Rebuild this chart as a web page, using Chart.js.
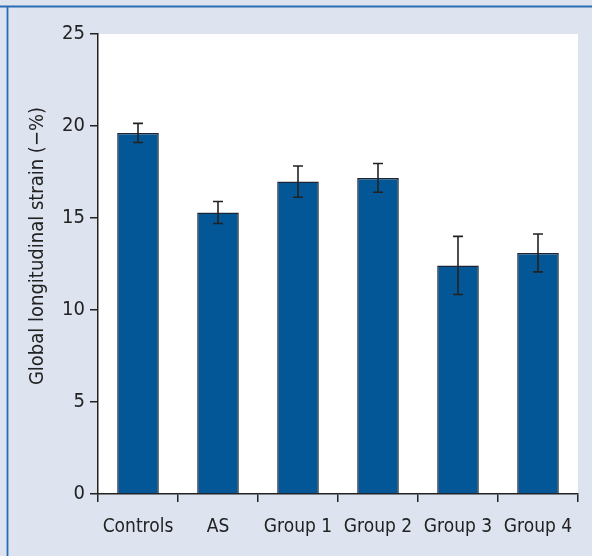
<!DOCTYPE html>
<html>
<head>
<meta charset="utf-8">
<script src="https://cdn.jsdelivr.net/npm/chart.js@4"></script>
<style>
  html, body { margin: 0; padding: 0; background: #dde3ef; }
  #wrap { width: 592px; height: 556px; }
</style>
</head>
<body>
<div id="wrap"><canvas id="c" width="592" height="556"></canvas></div>
<script>
// Global longitudinal strain by group, mean ± SEM
const categories = ['Controls', 'AS', 'Group 1', 'Group 2', 'Group 3', 'Group 4'];
const strainMean = [19.62, 15.3, 16.98, 17.18, 12.42, 13.1];
const strainErr = [0.52, 0.6, 0.85, 0.78, 1.58, 1.03];
const yTicks = [0, 5, 10, 15, 20, 25];
const yTitle = 'Global longitudinal strain (\u2212%)';

const FONT = "'Liberation Sans Narrow', 'DejaVu Sans Condensed', 'Arial Narrow', sans-serif";
const INK = '#222222';

// Panel background, white plot region and framing rules
const panelPlugin = {
  id: 'panel',
  beforeDraw(chart) {
    const { ctx, chartArea: a, width, height } = chart;
    ctx.save();
    ctx.fillStyle = '#dde3ef';
    ctx.fillRect(0, 0, width, height);
    ctx.fillStyle = '#ffffff';
    ctx.fillRect(a.left, a.top, a.right - a.left, a.bottom - a.top);
    ctx.strokeStyle = '#2a6db2';
    ctx.lineWidth = 1.8;
    ctx.beginPath();
    ctx.moveTo(0, 6.5); ctx.lineTo(width, 6.5);
    ctx.moveTo(7.5, 6.5); ctx.lineTo(7.5, height);
    ctx.stroke();
    ctx.restore();
  }
};

// Error whiskers drawn through the value scale, plus the rotated value-axis title
const errorBarPlugin = {
  id: 'errorBars',
  afterDatasetsDraw(chart) {
    const { ctx } = chart;
    const meta = chart.getDatasetMeta(0);
    const y = chart.scales.y;
    ctx.save();
    ctx.strokeStyle = INK;
    ctx.lineWidth = 1.6;
    meta.data.forEach((bar, i) => {
      const x = bar.x;
      const top = y.getPixelForValue(strainMean[i] + strainErr[i]);
      const bot = y.getPixelForValue(strainMean[i] - strainErr[i]);
      const cap = 5;
      ctx.beginPath();
      ctx.moveTo(x, top); ctx.lineTo(x, bot);
      ctx.moveTo(x - cap, top); ctx.lineTo(x + cap, top);
      ctx.moveTo(x - cap, bot); ctx.lineTo(x + cap, bot);
      ctx.stroke();
    });
    ctx.restore();
  },
  afterDraw(chart) {
    const { ctx, chartArea: a } = chart;
    ctx.save();
    ctx.translate(38, (a.top + a.bottom) / 2 - 18);
    ctx.rotate(-Math.PI / 2);
    ctx.fillStyle = INK;
    ctx.font = '20px ' + FONT;
    ctx.textAlign = 'center';
    ctx.textBaseline = 'middle';
    ctx.fillText(yTitle, 0, 0);
    ctx.restore();
  }
};

new Chart(document.getElementById('c'), {
  type: 'bar',
  data: {
    labels: categories,
    datasets: [{
      data: strainMean,
      backgroundColor: '#035797',
      borderColor: '#1c2533',
      borderWidth: 1.5,
      categoryPercentage: 1,
      barPercentage: 0.52
    }]
  },
  options: {
    responsive: false,
    animation: false,
    devicePixelRatio: 1,
    layout: { padding: { top: 34, right: 14, left: 0, bottom: 0 } },
    plugins: { legend: { display: false }, tooltip: { enabled: false } },
    scales: {
      x: {
        offset: true,
        grid: {
          offset: true,
          drawOnChartArea: false,
          drawTicks: true,
          tickLength: 8,
          color: INK,
          lineWidth: 1.5
        },
        border: { display: true, color: INK, width: 1.5 },
        ticks: {
          color: INK,
          padding: 14,
          maxRotation: 0,
          autoSkip: false,
          font: { family: FONT, size: 19 }
        },
        afterFit(scale) { scale.height = 62; }
      },
      y: {
        min: 0,
        max: 25,
        afterBuildTicks(scale) { scale.ticks = yTicks.map(v => ({ value: v })); },
        grid: {
          drawOnChartArea: false,
          drawTicks: true,
          tickLength: 8,
          color: INK,
          lineWidth: 1.5
        },
        border: { display: true, color: INK, width: 1.5 },
        ticks: {
          color: INK,
          padding: 5,
          font: { family: FONT, size: 20 }
        },
        afterFit(scale) { scale.width = 98; }
      }
    }
  },
  plugins: [panelPlugin, errorBarPlugin]
});
</script>
</body>
</html>
